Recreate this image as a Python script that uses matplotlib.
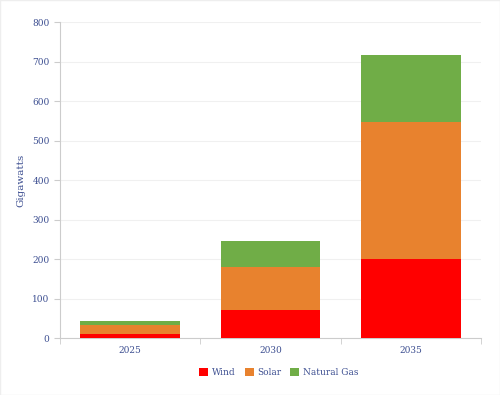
import matplotlib.pyplot as plt
import numpy as np

years = ["2025", "2030", "2035"]
wind = [11, 70, 200]
solar = [22, 110, 348]
gas = [9, 65, 168]

txt = "#3d4f91"
plt.rcParams["font.family"] = ["DejaVu Serif"]

fig = plt.figure(figsize=(5, 3.95), dpi=100)
ax = fig.add_axes([0.12, 0.1443, 0.842, 0.7997])

x = np.arange(len(years))
w = 0.71
ax.bar(x, wind, w, color="#ff0000", label="Wind", zorder=3)
ax.bar(x, solar, w, bottom=wind, color="#e8822e", label="Solar", zorder=3)
bot = np.array(wind) + np.array(solar)
ax.bar(x, gas, w, bottom=bot, color="#70ad47", label="Natural Gas", zorder=3)

ax.set_xlim(-0.5, 2.5)
ax.set_ylim(0, 800)
ax.set_yticks(range(0, 801, 100))
ax.set_xticks(x)
ax.set_xticklabels(years)
ax.set_xticks([-0.5, 0.5, 1.5, 2.5], minor=True)
ax.tick_params(axis="x", which="major", length=0, colors=txt, labelsize=6.5, pad=6)
ax.tick_params(axis="x", which="minor", length=4, color="#cccccc")
ax.tick_params(axis="y", length=4, color="#cccccc", labelcolor=txt, labelsize=6.5)
ax.grid(axis="y", color="#f0f0f0", linewidth=0.8, zorder=0)
for s in ["top", "right"]:
    ax.spines[s].set_visible(False)
for s in ["left", "bottom"]:
    ax.spines[s].set_color("#cccccc")

ax.set_ylabel("Gigawatts", color=txt, fontsize=7.5, labelpad=5)

ax.legend(loc="upper center", bbox_to_anchor=(0.52, -0.07), ncol=3, frameon=False,
          fontsize=6.5, labelcolor=txt, handlelength=1, handleheight=1,
          columnspacing=1.0, handletextpad=0.4)

fig.patches.append(plt.Rectangle((0, 0), 1, 1, transform=fig.transFigure,
                                 fill=False, edgecolor="#eeeeee", linewidth=1))

fig.savefig("out.png", dpi=100)
